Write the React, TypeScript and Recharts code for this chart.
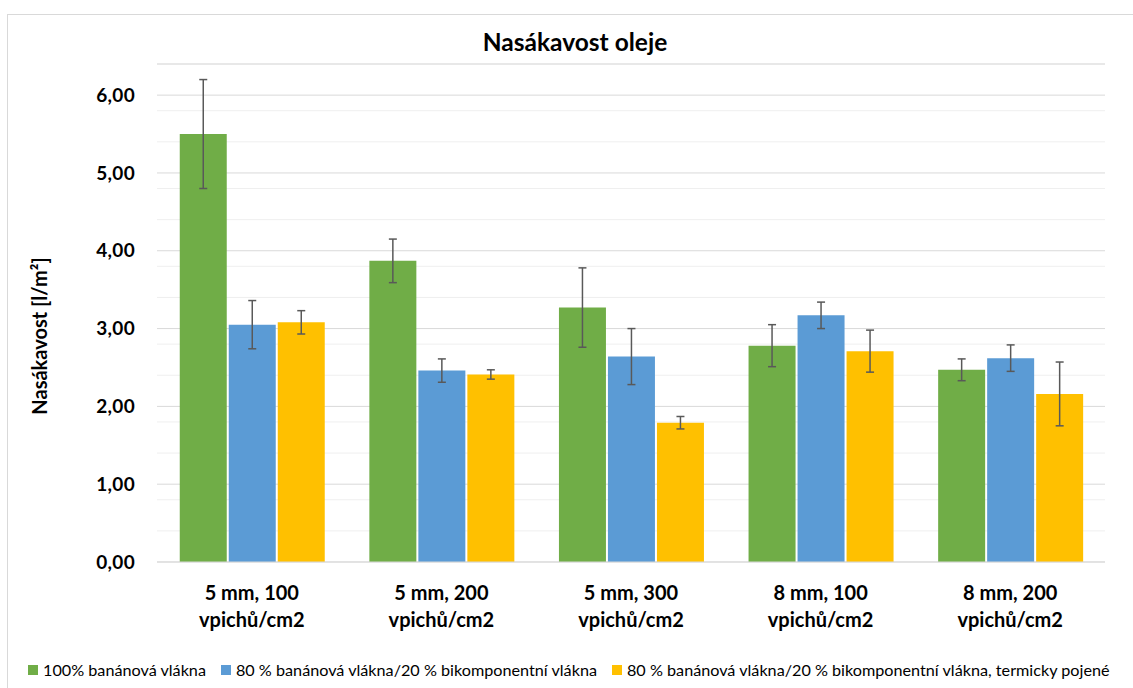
import React from "react"
import {
  BarChart, Bar, XAxis, YAxis, CartesianGrid, ErrorBar, Legend,
} from "recharts"

// kategorie (dva řádky popisku)
const categories = [
  "5 mm, 100\nvpichů/cm2",
  "5 mm, 200\nvpichů/cm2",
  "5 mm, 300\nvpichů/cm2",
  "8 mm, 100\nvpichů/cm2",
  "8 mm, 200\nvpichů/cm2",
]

const seriesNames = [
  "100% banánová vlákna",
  "80 % banánová vlákna/20 % bikomponentní vlákna",
  "80 % banánová vlákna/20 % bikomponentní vlákna, termicky pojené",
]

const banana100 = [5.5, 3.87, 3.27, 2.78, 2.47]
const banana100Err = [0.7, 0.28, 0.51, 0.27, 0.14]
const bico = [3.05, 2.46, 2.64, 3.17, 2.62]
const bicoErr = [0.31, 0.15, 0.36, 0.17, 0.17]
const thermo = [3.08, 2.41, 1.79, 2.71, 2.16]
const thermoErr = [0.15, 0.06, 0.08, 0.27, 0.41]

const yTicks = [0, 1, 2, 3, 4, 5, 6]
const minorLines = [
  0.2, 0.4, 0.6, 0.8, 1.2, 1.4, 1.6, 1.8, 2.2, 2.4, 2.6, 2.8,
  3.2, 3.4, 3.6, 3.8, 4.2, 4.4, 4.6, 4.8, 5.2, 5.4, 5.6, 5.8, 6.2, 6.4,
]

const COLORS = ["#70AD47", "#5B9BD5", "#FFC000"]
const FONT = "Lato, 'Noto Sans', sans-serif"

const data = categories.map((c, i) => ({
  name: c,
  a: banana100[i], aErr: banana100Err[i],
  b: bico[i], bErr: bicoErr[i],
  c: thermo[i], cErr: thermoErr[i],
}))

function CategoryTick(props: any) {
  const { x, y, payload } = props
  const lines = String(payload.value).split("\n")
  return (
    <text x={x} y={y} textAnchor="middle" fontFamily={FONT} fontWeight={700} fontSize={20} fill="#000">
      {lines.map((l, i) => (
        <tspan key={i} x={x} dy={i === 0 ? 30 : 27}>{l}</tspan>
      ))}
    </text>
  )
}

function YLabel() {
  return (
    <text x={47} y={336} transform="rotate(-90 47 336)" textAnchor="middle"
      fontFamily={FONT} fontWeight={700} fontSize={20} fill="#000">
      Nasákavost [l/m²]
    </text>
  )
}

function LegendContent() {
  return (
    <div style={{ display: "flex", alignItems: "center", gap: 15, paddingLeft: 28, paddingTop: 8, fontFamily: FONT, fontSize: 16.2, color: "#000", whiteSpace: "nowrap" }}>
      {seriesNames.map((n, i) => (
        <div key={n} style={{ display: "flex", alignItems: "center", gap: 5 }}>
          <span style={{ width: 10, height: 10, background: COLORS[i], display: "inline-block" }} />
          <span>{n}</span>
        </div>
      ))}
    </div>
  )
}

export default function App() {
  return (
    <div style={{ position: "absolute", left: 0, top: 0, width: 1133, height: 688, overflow: "hidden", background: "#fff" }}>
      <div style={{ position: "absolute", left: 7, top: 14, width: 1160, height: 700, border: "1px solid #D9D9D9" }} />
      <div style={{ position: "absolute", left: 0, top: 27, width: 1150, textAlign: "center", fontFamily: FONT, fontWeight: 700, fontSize: 24.5, color: "#000" }}>
        Nasákavost oleje
      </div>
      <div style={{ position: "absolute", left: 0, top: 0 }}>
        <BarChart width={1133} height={688} data={data}
          margin={{ top: 64, right: 28, bottom: 0, left: 0 }}
          barCategoryGap="12%" barGap={2}>
          <CartesianGrid vertical={false} horizontalValues={minorLines} stroke="#EFEFEF" />
          <CartesianGrid vertical={false} stroke="#D9D9D9" />
          <XAxis dataKey="name" height={90} tickLine={false} axisLine={{ stroke: "#D9D9D9" }} tick={<CategoryTick />} interval={0} />
          <YAxis width={157} domain={[0, 6.4]} ticks={yTicks} allowDataOverflow
            axisLine={false} tickLine={false} tickSize={0} tickMargin={22}
            tickFormatter={(v: number) => v.toFixed(2).replace(".", ",")}
            tick={{ fontFamily: FONT, fontWeight: 700, fontSize: 19, fill: "#000", letterSpacing: 0.3 }}
            label={<YLabel />}
          />
          <Legend verticalAlign="bottom" align="left" height={36} content={<LegendContent />} />
          <Bar dataKey="a" name={seriesNames[0]} fill={COLORS[0]} isAnimationActive={false}>
            <ErrorBar dataKey="aErr" width={4} stroke="#595959" strokeWidth={1.5} />
          </Bar>
          <Bar dataKey="b" name={seriesNames[1]} fill={COLORS[1]} isAnimationActive={false}>
            <ErrorBar dataKey="bErr" width={4} stroke="#595959" strokeWidth={1.5} />
          </Bar>
          <Bar dataKey="c" name={seriesNames[2]} fill={COLORS[2]} isAnimationActive={false}>
            <ErrorBar dataKey="cErr" width={4} stroke="#595959" strokeWidth={1.5} />
          </Bar>
        </BarChart>
      </div>
    </div>
  )
}
